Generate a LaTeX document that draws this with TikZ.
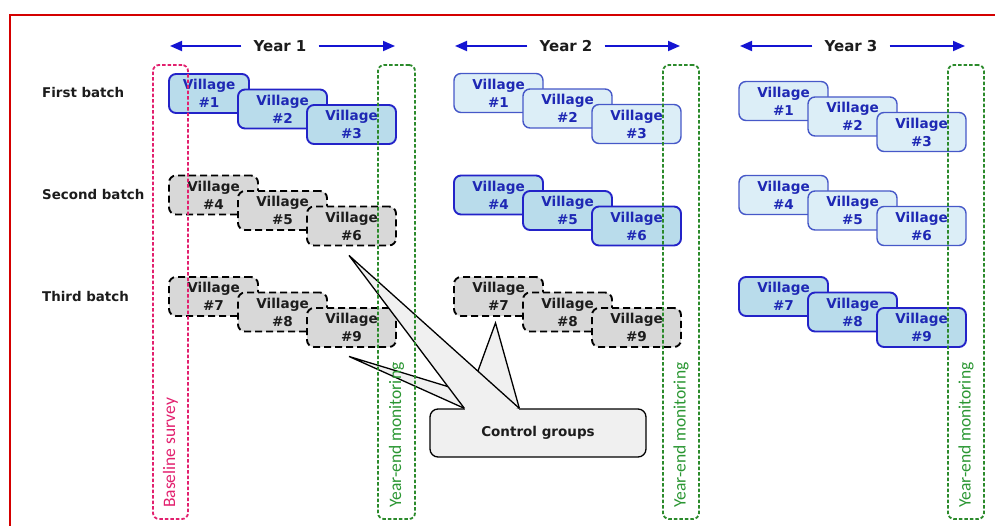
\documentclass[tikz,border=0pt]{standalone}
\usepackage{fontspec}
\setmainfont{DejaVu Sans}
\newfontfamily\calfont{Carlito}
\usetikzlibrary{arrows.meta,calc}

\definecolor{framered}{HTML}{D40000}
\definecolor{actfill}{HTML}{B9DCEB}
\definecolor{actdraw}{HTML}{2323C8}
\definecolor{pasfill}{HTML}{DCEEF7}
\definecolor{pasdraw}{HTML}{4658C8}
\definecolor{bluetext}{HTML}{1E28B4}
\definecolor{ctlfill}{HTML}{D8D8D8}
\definecolor{ctltext}{HTML}{1C1C1C}
\definecolor{callfill}{HTML}{F0F0F0}
\definecolor{magenta}{HTML}{E2206E}
\definecolor{dgreen}{HTML}{2B8A2B}
\definecolor{gtext}{HTML}{2A9632}
\definecolor{arrowblue}{HTML}{1414D2}

% three staggered village boxes of one batch in one year
% #1 style, #2 name prefix, #3 left edge, #4 centre y of first box,
% #5-#7 village numbers, #8 width of first box
\newcommand\villagetrio[8]{%
  \node[#1, minimum width=#8pt] (#2a) at ({#3+#8/2}, #4) {Village\\\##5};
  \node[#1] (#2b) at ({#3+113.5}, {#4+15.5}) {Village\\\##6};
  \node[#1] (#2c) at ({#3+182.5}, {#4+31}) {Village\\\##7};
}

\begin{document}
\begin{tikzpicture}[x=1pt, y=-1pt,
  vbox/.style={rounded corners=7pt, minimum width=89pt, minimum height=39pt,
    inner sep=0pt, align=center, font=\fontsize{13.6}{18}\selectfont\bfseries},
  vact/.style={vbox, fill=actfill, draw=actdraw, line width=1.9pt, text=bluetext},
  vpas/.style={vbox, fill=pasfill, draw=pasdraw, line width=1.4pt, text=bluetext},
  vctl/.style={vbox, fill=ctlfill, draw=black, line width=1.9pt,
    dash pattern=on 7pt off 4pt, text=ctltext},
  rowlab/.style={anchor=west, inner sep=0pt, text=ctltext,
    font=\fontsize{13.4}{16}\selectfont\bfseries},
  yearlab/.style={inner xsep=12pt, inner ysep=0pt, text=ctltext,
    font=\fontsize{15}{18}\selectfont\bfseries},
  yarrow/.style={draw=arrowblue, line width=1.8pt,
    -{Triangle[length=12pt,width=10pt]}},
  survbox/.style={rounded corners=6pt, line width=1.8pt,
    dash pattern=on 3.5pt off 2pt, minimum height=454pt, inner sep=0pt},
  survlab/.style={rotate=90, anchor=west, inner sep=0pt,
    font=\calfont\fontsize{17.5}{20}\selectfont},
  calline/.style={draw=black, line width=1.3pt, line join=miter},
]
\useasboundingbox (0,0) rectangle (995,526);

% outer frame
\draw[framered, line width=2pt] (10,526) -- (10,15) -- (995,15);

% year headings with arrows
\node[yearlab] (yr1) at (280,46) {Year 1};
\node[yearlab] (yr2) at (566,46) {Year 2};
\node[yearlab] (yr3) at (851,46) {Year 3};
\coordinate (yr1l) at (170,46); \coordinate (yr1r) at (395,46);
\coordinate (yr2l) at (455,46); \coordinate (yr2r) at (680,46);
\coordinate (yr3l) at (740,46); \coordinate (yr3r) at (965,46);
\foreach \k in {1,2,3} {
  \draw[yarrow] (yr\k.west) -- (yr\k l);
  \draw[yarrow] (yr\k.east) -- (yr\k r);
}

% batch labels
\node[rowlab] (lab1) at (42,93) {First batch};
\node[rowlab] (lab2) at (42,195) {Second batch};
\node[rowlab] (lab3) at (42,297) {Third batch};

% year 1
\villagetrio{vact}{y1b1}{169}{93.5}{1}{2}{3}{80}
\villagetrio{vctl}{y1b2}{169}{195}{4}{5}{6}{89}
\villagetrio{vctl}{y1b3}{169}{296.5}{7}{8}{9}{89}
% year 2
\villagetrio{vpas}{y2b1}{454}{93}{1}{2}{3}{89}
\villagetrio{vact}{y2b2}{454}{195}{4}{5}{6}{89}
\villagetrio{vctl}{y2b3}{454}{296.5}{7}{8}{9}{89}
% year 3
\villagetrio{vpas}{y3b1}{739}{101}{1}{2}{3}{89}
\villagetrio{vpas}{y3b2}{739}{195}{4}{5}{6}{89}
\villagetrio{vact}{y3b3}{739}{296.5}{7}{8}{9}{89}

% callout pointing at the control villages
\node[rounded corners=8pt, fill=callfill, draw=black, line width=1.3pt,
  minimum width=216pt, minimum height=48pt, inner sep=0pt,
  font=\fontsize{13.5}{16}\selectfont\bfseries, text=ctltext]
  (ctrl) at (538,433) {Control groups};
\coordinate (b1) at ($(ctrl.north west)+(35,0)$);
\coordinate (b2) at ($(ctrl.north west)+(90,0)$);
\coordinate (t1) at ($(y1b2c.south)+(-2.5,9)$);
\coordinate (t2) at ($(y1b3c.south)+(-2.5,8.5)$);
\coordinate (t3) at ($(y2b3a.south)+(-3,6)$);
\fill[callfill] ($(b1)+(0.7,-1.2)$) rectangle ($(b2)+(-0.7,1.2)$);
\foreach \t in {t3,t2,t1} {
  \fill[callfill] (b1) -- (\t) -- (b2) -- cycle;
  \draw[calline] (b1) -- (\t) -- (b2);
}

% survey windows
\node[survbox, draw=magenta, minimum width=35pt] (base) at (170.5,292) {};
\node[survbox, draw=dgreen, minimum width=37pt] (mon1) at (396.5,292) {};
\node[survbox, draw=dgreen, minimum width=36pt] (mon2) at (681,292) {};
\node[survbox, draw=dgreen, minimum width=36pt] (mon3) at (966,292) {};
\node[survlab, text=magenta] (baselab) at (170.5,508) {Baseline survey};
\node[survlab, text=gtext] (monlab1) at (396.5,508) {Year-end monitoring};
\node[survlab, text=gtext] (monlab2) at (681,508) {Year-end monitoring};
\node[survlab, text=gtext] (monlab3) at (966,508) {Year-end monitoring};
\end{tikzpicture}
\end{document}
